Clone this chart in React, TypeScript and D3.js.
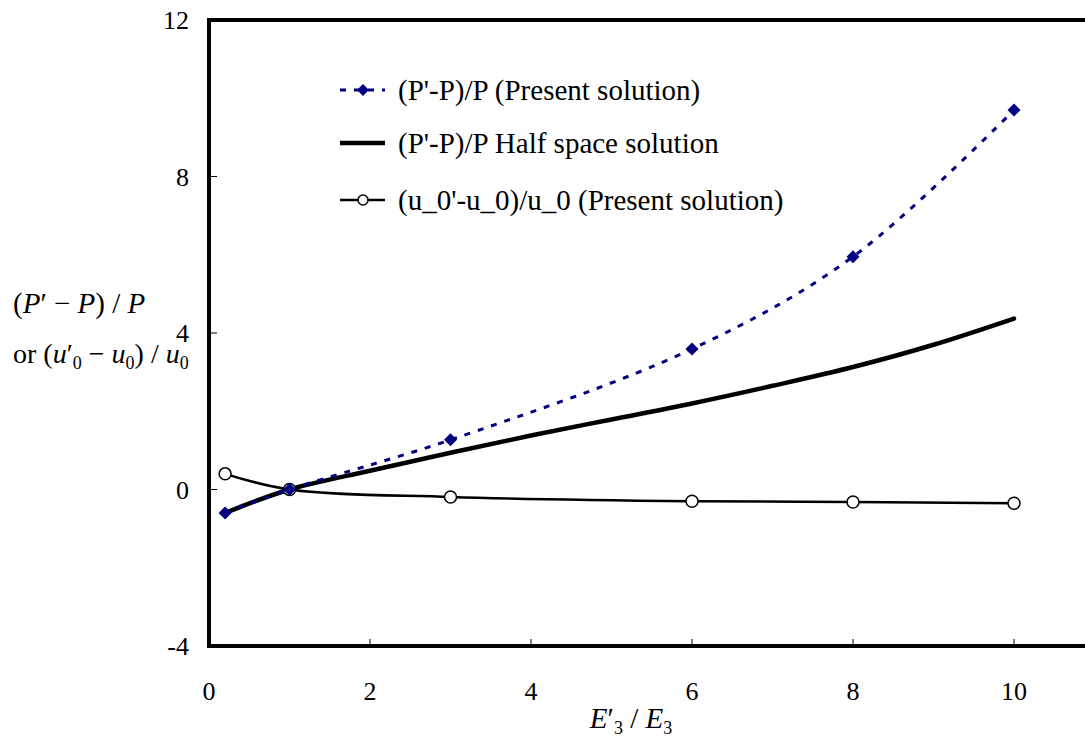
import React from "react";
import * as d3 from "d3";

const presentX = [0.2, 1, 3, 6, 8, 10];
const presentP = [-0.6, 0, 1.27, 3.59, 5.95, 9.7];
const halfX = [0.2, 1, 2, 3, 4, 5, 6, 7, 8, 9, 10];
const halfP = [-0.6, 0, 0.48, 0.94, 1.38, 1.79, 2.2, 2.65, 3.13, 3.7, 4.37];
const uX = [0.2, 1, 3, 6, 8, 10];
const uVals = [0.4, 0, -0.19, -0.3, -0.32, -0.35];
const xTicks = [0, 2, 4, 6, 8, 10];
const yTicks = [-4, 0, 4, 8, 12];
const legendLabels = [
  "(P'-P)/P (Present solution)",
  "(P'-P)/P Half space solution",
  "(u_0'-u_0)/u_0 (Present solution)",
];

const W = 1085;
const H = 742;
const NAVY = "#000080";
const FONT = "'Liberation Serif', 'Times New Roman', serif";

export default function App() {
  const x = d3.scaleLinear().domain([0, 10]).range([209, 1014]);
  const y = d3.scaleLinear().domain([-4, 12]).range([646, 20]);
  const xRight = x(11.2);

  const line = d3
    .line<[number, number]>()
    .x((d) => x(d[0]))
    .y((d) => y(d[1]))
    .curve(d3.curveCatmullRom.alpha(0.5));

  const present: [number, number][] = presentX.map((v, i) => [v, presentP[i]]);
  const half: [number, number][] = halfX.map((v, i) => [v, halfP[i]]);
  const uu: [number, number][] = uX.map((v, i) => [v, uVals[i]]);

  const diamond = (cx: number, cy: number, r: number) =>
    `M${cx},${cy - r}L${cx + r},${cy}L${cx},${cy + r}L${cx - r},${cy}Z`;

  const legY = [90, 143, 200];
  const legX0 = 340;
  const legX1 = 385;
  const legText = 398;

  return (
    <svg
      width={W}
      height={H}
      style={{ position: "absolute", left: 0, top: 0, background: "#fff" }}
      fontFamily={FONT}
    >
      {/* frame */}
      <path
        d={`M${xRight},${y(12)}L${x(0)},${y(12)}L${x(0)},${y(-4)}L${xRight},${y(-4)}`}
        fill="none"
        stroke="#000"
        strokeWidth={4}
        strokeLinecap="square"
      />
      {/* x ticks */}
      {xTicks.slice(1).map((t) => (
        <line key={"xt" + t} x1={x(t)} x2={x(t)} y1={y(-4)} y2={y(-4) - 7} stroke="#000" strokeWidth={1} />
      ))}
      {xTicks.map((t) => (
        <text key={"xl" + t} x={x(t)} y={700} fontSize={26} textAnchor="middle">
          {t}
        </text>
      ))}
      {/* y ticks */}
      {yTicks.slice(1, -1).map((t) => (
        <line key={"yt" + t} x1={x(0)} x2={x(0) + 8} y1={y(t)} y2={y(t)} stroke="#000" strokeWidth={1} />
      ))}
      {yTicks.map((t) => (
        <text key={"yl" + t} x={189} y={y(t)} dy="0.35em" fontSize={26} textAnchor="end">
          {t}
        </text>
      ))}

      {/* series */}
      <path d={line(half) || ""} fill="none" stroke="#000" strokeWidth={4.5} strokeLinecap="round" />
      <path d={line(uu) || ""} fill="none" stroke="#000" strokeWidth={2.5} />
      <path
        d={line(present) || ""}
        fill="none"
        stroke={NAVY}
        strokeWidth={3}
        strokeDasharray="6,8"
      />
      {uu.map((d, i) => (
        <circle key={"c" + i} cx={x(d[0])} cy={y(d[1])} r={6} fill="#fff" stroke="#000" strokeWidth={1.5} />
      ))}
      {present.map((d, i) => (
        <path key={"d" + i} d={diamond(x(d[0]), y(d[1]), 6.5)} fill={NAVY} />
      ))}

      {/* legend */}
      <line x1={legX0} x2={legX1} y1={legY[0]} y2={legY[0]} stroke={NAVY} strokeWidth={3} strokeDasharray="6,8" />
      <path d={diamond(363, legY[0], 6)} fill={NAVY} />
      <line x1={legX0} x2={legX1} y1={legY[1]} y2={legY[1]} stroke="#000" strokeWidth={4.5} />
      <line x1={legX0} x2={legX1} y1={legY[2]} y2={legY[2]} stroke="#000" strokeWidth={2.5} />
      <circle cx={363} cy={legY[2]} r={5} fill="#fff" stroke="#000" strokeWidth={1.5} />
      {legendLabels.map((l, i) => (
        <text key={"lg" + i} x={legText} y={legY[i]} dy="0.35em" fontSize={29}>
          {l}
        </text>
      ))}

      {/* y axis title */}
      <text x={13} y={313} fontSize={29}>
        (<tspan fontStyle="italic">P</tspan>′ − <tspan fontStyle="italic">P</tspan>) / <tspan fontStyle="italic">P</tspan>
      </text>
      <text x={13} y={363} fontSize={28}>
        or (<tspan fontStyle="italic">u</tspan>
        <tspan>′</tspan>
        <tspan fontSize={18} dy={6}>0</tspan>
        <tspan dy={-6}> − </tspan>
        <tspan fontStyle="italic">u</tspan>
        <tspan fontSize={18} dy={6}>0</tspan>
        <tspan dy={-6}>) / </tspan>
        <tspan fontStyle="italic">u</tspan>
        <tspan fontSize={18} dy={6}>0</tspan>
      </text>

      {/* x axis title */}
      <text x={631} y={728} fontSize={29} textAnchor="middle">
        <tspan fontStyle="italic">E</tspan>
        <tspan>′</tspan>
        <tspan fontSize={18} dy={6}>3</tspan>
        <tspan dy={-6}> / </tspan>
        <tspan fontStyle="italic">E</tspan>
        <tspan fontSize={18} dy={6}>3</tspan>
      </text>
    </svg>
  );
}
